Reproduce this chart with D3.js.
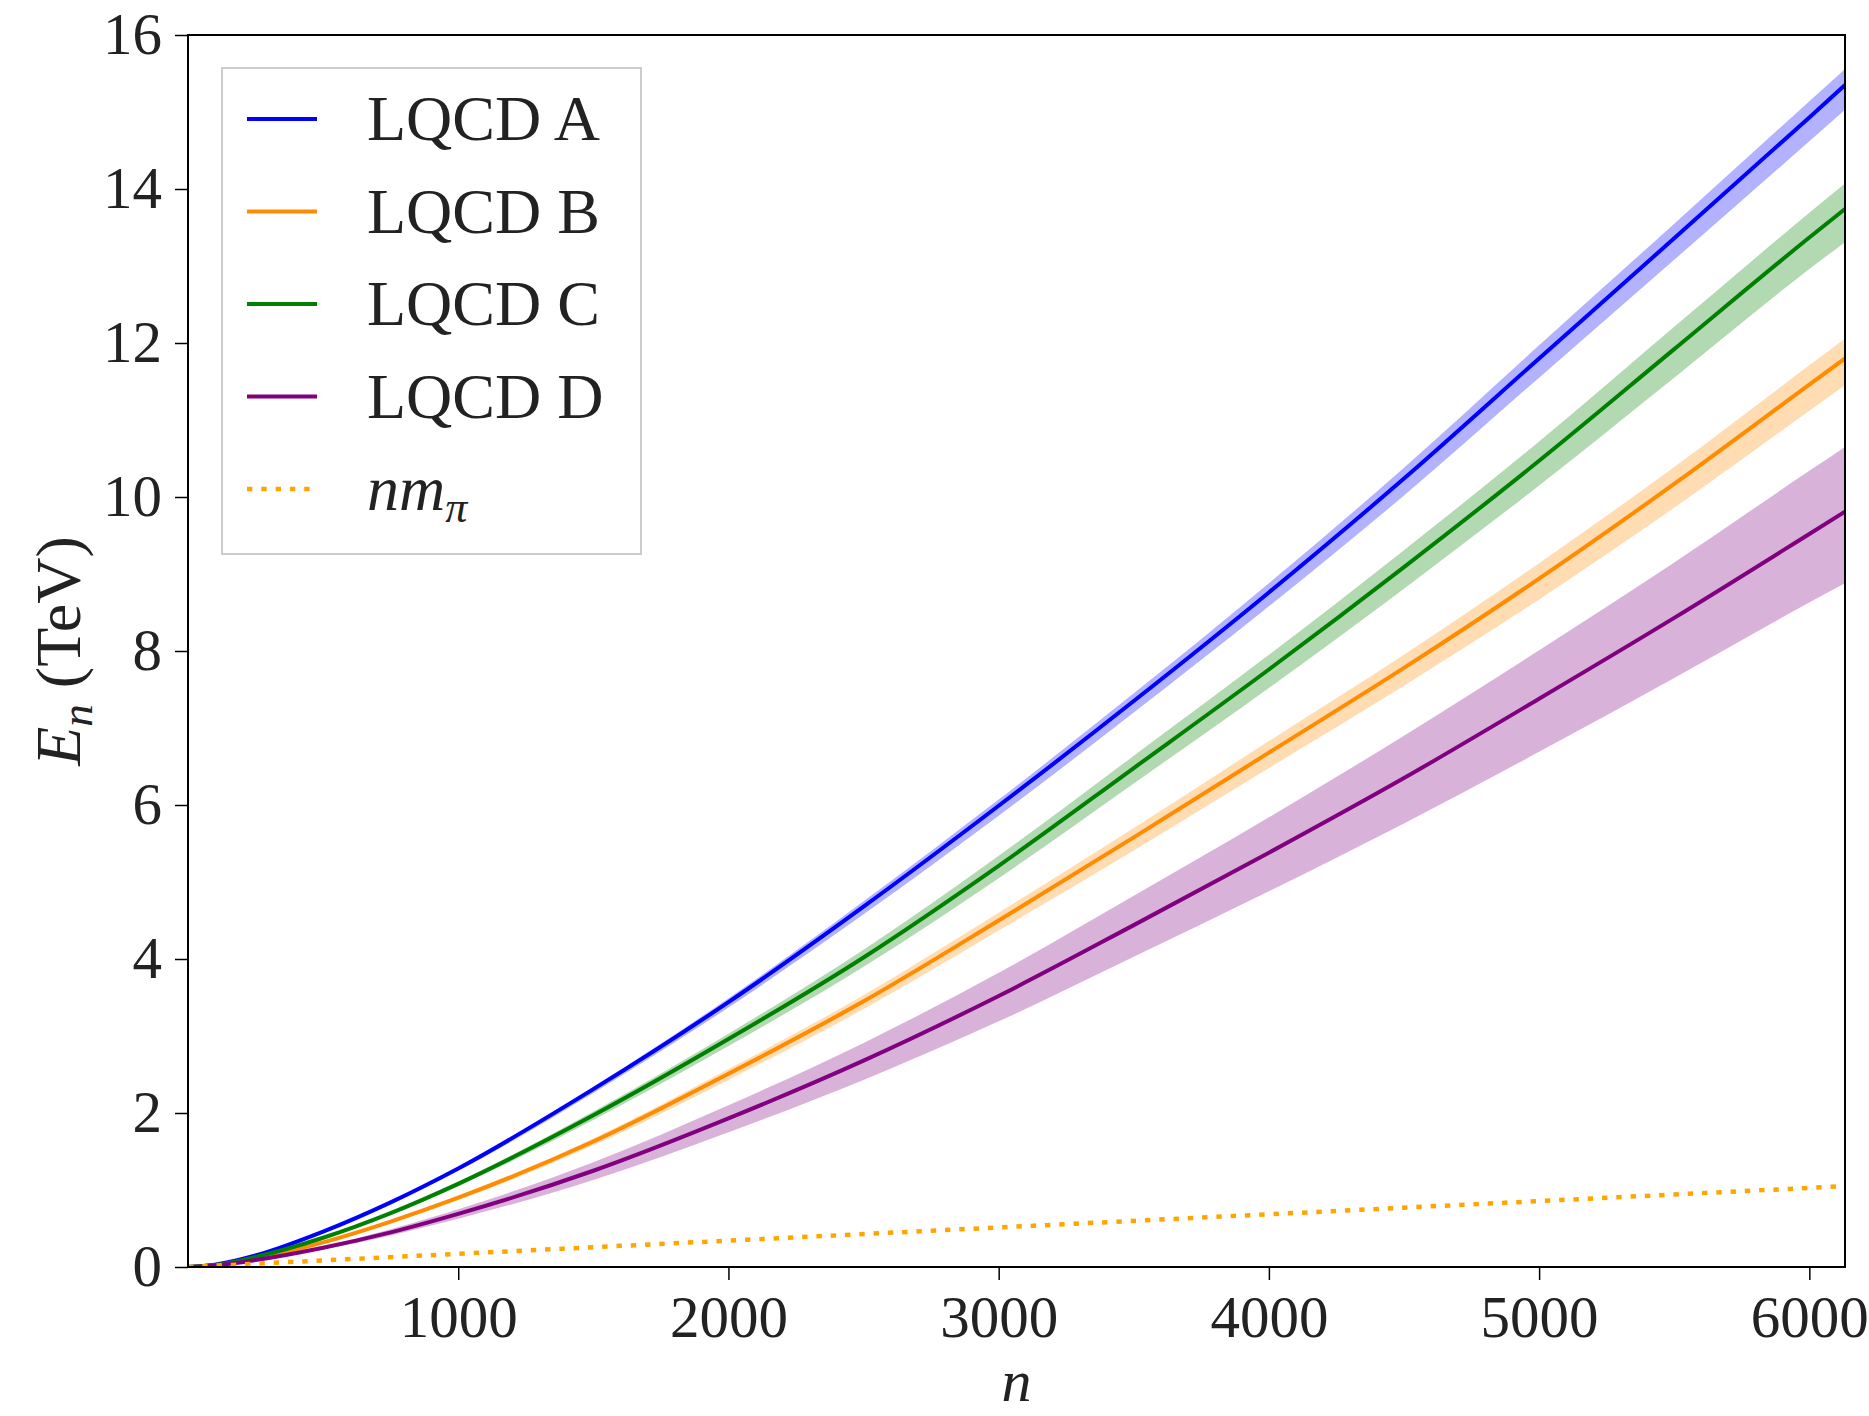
<!DOCTYPE html>
<html>
<head>
<meta charset="utf-8">
<script src="https://cdn.jsdelivr.net/npm/d3@7/dist/d3.min.js"></script>
<style>
  body { margin: 0; background: #fff; }
  svg { display: block; font-family: "Liberation Serif", "DejaVu Serif", serif; }
</style>
</head>
<body>
<svg id="container" width="1869" height="1416"></svg>
<script>
// n values (x) shared by every series
const nVals = [0, 100, 250, 500, 750, 1000, 1500, 2000, 2500, 3000, 3500, 4000, 4500, 5000, 5500, 6000, 6132];

// LQCD A
const eA   = [0, 0.030, 0.15, 0.46, 0.84, 1.28, 2.31, 3.44, 4.68, 5.99, 7.35, 8.76, 10.24, 11.80, 13.36, 14.93, 15.35];
const eAlo = [0, 0.029, 0.147, 0.45, 0.82, 1.25, 2.26, 3.37, 4.58, 5.86, 7.20, 8.58, 10.02, 11.55, 13.08, 14.62, 15.03];
const eAhi = [0, 0.031, 0.152, 0.466, 0.85, 1.30, 2.34, 3.49, 4.75, 6.07, 7.45, 8.88, 10.38, 11.97, 13.55, 15.14, 15.56];

// LQCD B
const eB   = [0, 0.020, 0.11, 0.32, 0.59, 0.90, 1.63, 2.51, 3.45, 4.50, 5.58, 6.68, 7.78, 8.94, 10.17, 11.46, 11.80];
const eBlo = [0, 0.019, 0.107, 0.31, 0.57, 0.87, 1.58, 2.43, 3.35, 4.37, 5.41, 6.48, 7.55, 8.67, 9.86, 11.12, 11.45];
const eBhi = [0, 0.021, 0.112, 0.327, 0.60, 0.92, 1.67, 2.57, 3.53, 4.60, 5.70, 6.83, 7.95, 9.14, 10.39, 11.71, 12.06];

// LQCD C
const eC   = [0, 0.025, 0.13, 0.38, 0.70, 1.08, 1.97, 2.96, 4.02, 5.21, 6.48, 7.76, 9.09, 10.47, 11.92, 13.37, 13.74];
const eClo = [0, 0.024, 0.126, 0.368, 0.68, 1.05, 1.91, 2.87, 3.90, 5.05, 6.28, 7.52, 8.81, 10.15, 11.55, 12.96, 13.31];
const eChi = [0, 0.026, 0.133, 0.39, 0.72, 1.11, 2.02, 3.03, 4.12, 5.34, 6.64, 7.95, 9.31, 10.72, 12.21, 13.69, 14.07];

// LQCD D
const eD   = [0, 0.020, 0.09, 0.25, 0.45, 0.69, 1.25, 1.93, 2.68, 3.52, 4.44, 5.38, 6.35, 7.38, 8.43, 9.52, 9.81];
const eDlo = [0, 0.018, 0.082, 0.227, 0.41, 0.626, 1.13, 1.75, 2.43, 3.19, 4.03, 4.88, 5.76, 6.69, 7.65, 8.63, 8.88];
const eDhi = [0, 0.022, 0.098, 0.27, 0.49, 0.75, 1.36, 2.10, 2.91, 3.82, 4.82, 5.84, 6.90, 8.01, 9.15, 10.34, 10.65];

// n * m_pi
const piN = [0, 6132];
const piE = [0, 1.05];

const xTicks = [1000, 2000, 3000, 4000, 5000, 6000];
const yTicks = [0, 2, 4, 6, 8, 10, 12, 14, 16];

const series = [
    { name: "LQCD A", color: "#0000ff", mid: eA, lo: eAlo, hi: eAhi },
    { name: "LQCD B", color: "#ff8c00", mid: eB, lo: eBlo, hi: eBhi },
    { name: "LQCD C", color: "#008000", mid: eC, lo: eClo, hi: eChi },
    { name: "LQCD D", color: "#800080", mid: eD, lo: eDlo, hi: eDhi }
];

const svg = d3.select('#container');

const margin = { top: 35, right: 24, bottom: 149, left: 188 };
const width = 1869 - margin.left - margin.right;
const height = 1416 - margin.top - margin.bottom;

const xScale = d3.scaleLinear().domain([0, 6132]).range([0, width]);
const yScale = d3.scaleLinear().domain([0, 16]).range([height, 0]);

const g = svg.append('g')
    .attr('transform', 'translate(' + margin.left + ',' + margin.top + ')');

g.append('clipPath').attr('id', 'clip')
    .append('rect').attr('width', width).attr('height', height);

const plot = g.append('g').attr('clip-path', 'url(#clip)');

const area = d3.area()
    .x((d) => xScale(d[0]))
    .y0((d) => yScale(d[1]))
    .y1((d) => yScale(d[2]))
    .curve(d3.curveMonotoneX);

const line = d3.line()
    .x((d) => xScale(d[0]))
    .y((d) => yScale(d[1]))
    .curve(d3.curveMonotoneX);

for (let s of series) {
    const band = nVals.map((n, i) => [n, s.lo[i], s.hi[i]]);
    const pts = nVals.map((n, i) => [n, s.mid[i]]);
    plot.append('path')
        .attr('d', area(band))
        .attr('fill', s.color)
        .attr('fill-opacity', 0.3);
    plot.append('path')
        .attr('d', line(pts))
        .attr('fill', 'none')
        .attr('stroke', s.color)
        .attr('stroke-width', 4);
}

plot.append('path')
    .attr('d', line(piN.map((n, i) => [n, piE[i]])))
    .attr('fill', 'none')
    .attr('stroke', '#ffa500')
    .attr('stroke-width', 4.5)
    .attr('stroke-dasharray', '5.4 8.9');

// axes
const xAxis = g.append('g')
    .attr('transform', 'translate(0,' + height + ')')
    .call(d3.axisBottom(xScale).tickValues(xTicks).tickSize(13).tickPadding(15).tickFormat(d3.format('d')));
const yAxis = g.append('g')
    .call(d3.axisLeft(yScale).tickValues(yTicks).tickSize(13).tickPadding(13).tickFormat(d3.format('d')));

for (let ax of [xAxis, yAxis]) {
    ax.select('.domain').remove();
    ax.selectAll('.tick line').attr('stroke', '#000').attr('stroke-width', 1.5);
    ax.selectAll('.tick text')
        .attr('fill', '#222')
        .style('font-family', '"Liberation Serif", serif')
        .style('font-size', '59px');
}

g.append('rect')
    .attr('width', width)
    .attr('height', height)
    .attr('fill', 'none')
    .attr('stroke', '#000')
    .attr('stroke-width', 2);

// axis labels
const yLab = svg.append('text')
    .attr('transform', 'translate(80,' + (margin.top + height / 2) + ') rotate(-90)')
    .attr('text-anchor', 'middle')
    .attr('fill', '#222')
    .style('font-size', '64px');
yLab.append('tspan').attr('font-style', 'italic').text('E');
yLab.append('tspan').attr('font-style', 'italic').attr('font-size', '45px').attr('dy', 12).text('n');
yLab.append('tspan').attr('dy', -12).text('\u00a0(TeV)');

svg.append('text')
    .attr('x', margin.left + width / 2)
    .attr('y', 1401)
    .attr('text-anchor', 'middle')
    .attr('font-style', 'italic')
    .attr('fill', '#222')
    .style('font-size', '60px')
    .text('n');

// legend
const legend = g.append('g').attr('transform', 'translate(34,33)');
legend.append('rect')
    .attr('width', 419)
    .attr('height', 486)
    .attr('fill', '#fff')
    .attr('stroke', '#cccccc')
    .attr('stroke-width', 2);

const legItems = series.map((s) => ({ name: s.name, color: s.color, dash: null }));
legItems.push({ name: null, color: '#ffa500', dash: '5.4 8.9' });

legItems.forEach((d, i) => {
    const y = 51 + i * 92.5;
    legend.append('line')
        .attr('x1', 25).attr('x2', 95)
        .attr('y1', y).attr('y2', y)
        .attr('stroke', d.color)
        .attr('stroke-width', d.dash ? 4.5 : 4)
        .attr('stroke-dasharray', d.dash);
    const t = legend.append('text')
        .attr('x', 145)
        .attr('y', y + 21)
        .attr('fill', '#222')
        .style('font-size', '64px');
    if (d.name) {
        t.text(d.name);
    } else {
        t.append('tspan').attr('font-style', 'italic').text('nm');
        t.append('tspan').attr('font-style', 'italic').attr('font-size', '44px').attr('dy', 12).text('\u03c0');
    }
});
</script>
</body>
</html>
